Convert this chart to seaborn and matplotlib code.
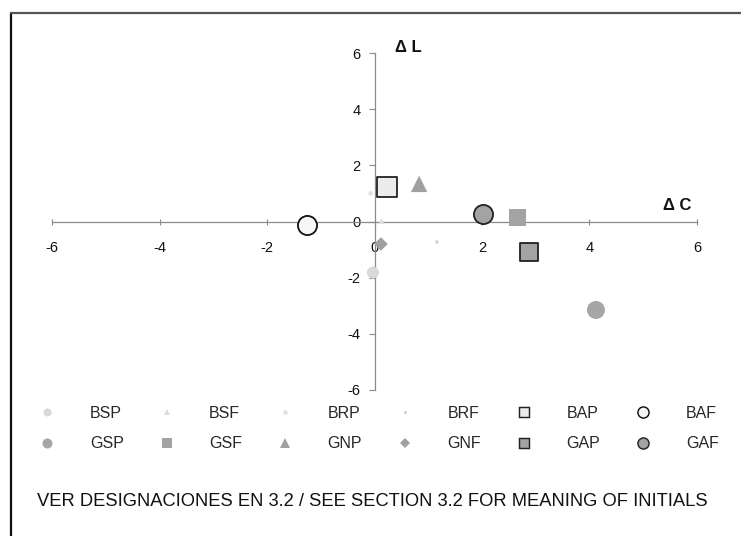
import matplotlib
matplotlib.use("Agg")
import matplotlib.pyplot as plt
from matplotlib.lines import Line2D
import seaborn as sns

# Colour differences per sample: chroma shift (ΔC) and lightness shift (ΔL)
labels = ["BSP", "BSF", "BRP", "BRF", "BAP", "BAF",
          "GSP", "GSF", "GNP", "GNF", "GAP", "GAF"]
delta_c = [-0.03, 0.13, -0.07, 1.16, 0.23, -1.26,
           4.12, 2.66, 0.83, 0.12, 2.88, 2.02]
delta_l = [-1.82, 0.02, 1.00, -0.73, 1.24, -0.12,
           -3.15, 0.15, 1.34, -0.80, -1.08, 0.26]
ticks = [-6, -4, -2, 0, 2, 4, 6]

# marker, face colour, edge colour, edge width, size in plot, size in key
styles = {
    "BSP": ("o", "#d9d9d9", "none", 0.0, 75, 5.8),
    "BSF": ("^", "#dcdcdc", "none", 0.0, 16, 4.5),
    "BRP": ("o", "#e2e2e2", "none", 0.0, 12, 3.4),
    "BRF": ("o", "#cfcfcf", "none", 0.0, 6, 2.2),
    "BAP": ("s", "#ececec", "#222222", 1.3, 190, 7.8),
    "BAF": ("o", "#f6f6f6", "#111111", 1.3, 190, 8.0),
    "GSP": ("o", "#a6a6a6", "none", 0.0, 168, 7.2),
    "GSF": ("s", "#a3a3a3", "none", 0.0, 150, 7.2),
    "GNP": ("^", "#a0a0a0", "none", 0.0, 140, 7.4),
    "GNF": ("D", "#a0a0a0", "none", 0.0, 48, 5.0),
    "GAP": ("s", "#a3a3a3", "#222222", 1.3, 175, 7.6),
    "GAF": ("o", "#a3a3a3", "#222222", 1.3, 190, 8.0),
}

sns.set_theme(style="white")
plt.rcParams["font.family"] = ["Liberation Sans", "DejaVu Sans"]

fig = plt.figure(figsize=(7.41, 5.36), dpi=100)
ax = fig.add_axes([0.0702, 0.2724, 0.8704, 0.6287])

for name, c, l in zip(labels, delta_c, delta_l):
    m, fc, ec, lw, s, _ = styles[name]
    sns.scatterplot(x=[c], y=[l], marker=m, s=s, color=fc, edgecolor=ec,
                    linewidth=lw, ax=ax, legend=False, zorder=3)

ax.set_xlim(-6, 6)
ax.set_ylim(-6, 6)
ax.set_xticks(ticks)
ax.set_yticks(ticks)
ax.set_xticklabels([str(t) for t in ticks])
ax.set_yticklabels([str(t) for t in ticks])
ax.set_xlabel("")
ax.set_ylabel("")

# axes crossing at the origin
for side in ("top", "right"):
    ax.spines[side].set_visible(False)
ax.spines["left"].set_position(("data", 0))
ax.spines["bottom"].set_position(("data", 0))
for side in ("left", "bottom"):
    ax.spines[side].set_color("#8a8a8a")
    ax.spines[side].set_linewidth(0.9)

ax.tick_params(axis="x", direction="inout", length=4, width=0.8,
               colors="#8a8a8a", labelcolor="#111111", labelsize=10.5,
               pad=12, bottom=True)
ax.tick_params(axis="y", direction="out", length=4, width=0.8,
               colors="#8a8a8a", labelcolor="#111111", labelsize=10.5,
               pad=6, left=True)
ax.grid(False)
ax.set_facecolor("white")

# axis names
fig.text(408 / 741, 1 - 47 / 536, "Δ L", ha="center", va="center",
         fontsize=12, fontweight="bold", color="#111111")
fig.text(677 / 741, 1 - 206 / 536, "Δ C", ha="center", va="center",
         fontsize=12, fontweight="bold", color="#111111")

# key: two rows of six, filled column by column
order = ["BSP", "GSP", "BSF", "GSF", "BRP", "GNP",
         "BRF", "GNF", "BAP", "GAP", "BAF", "GAF"]
handles = []
for name in order:
    m, fc, ec, lw, _, ms = styles[name]
    handles.append(Line2D([], [], linestyle="none", marker=m, markersize=ms,
                          markerfacecolor=fc,
                          markeredgecolor=(fc if ec == "none" else ec),
                          markeredgewidth=(lw * 0.8 if ec != "none" else 0)))
fig.legend(handles, order, ncol=6, loc="upper left",
           bbox_to_anchor=(39.5 / 741, 1 - 406 / 536), frameon=False,
           fontsize=11.5, handlelength=1.0, handletextpad=2.15,
           columnspacing=2.2, labelspacing=0.95, borderpad=0,
           borderaxespad=0)

fig.text(372 / 741, 1 - 501 / 536,
         "VER DESIGNACIONES EN 3.2 / SEE SECTION 3.2 FOR MEANING OF INITIALS",
         ha="center", va="center", fontsize=13.2, color="#111111")

# page frame on the left and top
fig.add_artist(Line2D([11 / 741, 11 / 741], [0, 1 - 13 / 536],
                      transform=fig.transFigure, color="#111111", lw=1.6))
fig.add_artist(Line2D([11 / 741, 1], [1 - 13 / 536, 1 - 13 / 536],
                      transform=fig.transFigure, color="#555555", lw=1.6))

fig.savefig("out.png", dpi=100, facecolor="white")
